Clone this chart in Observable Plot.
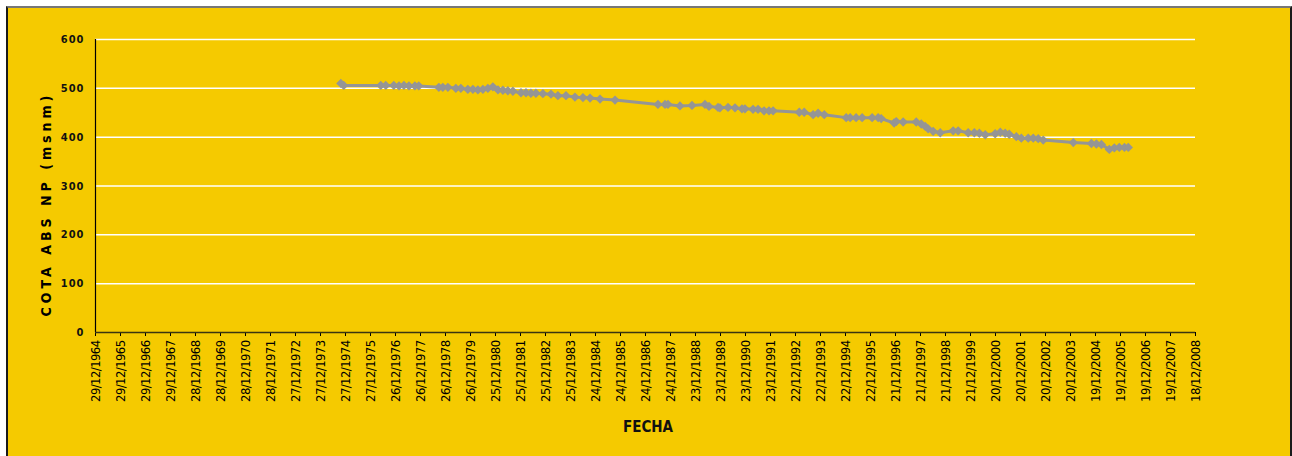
<!DOCTYPE html>
<html>
<head>
<meta charset="utf-8">
<script src="https://cdn.jsdelivr.net/npm/d3@7"></script>
<script src="https://cdn.jsdelivr.net/npm/@observablehq/plot@0.6"></script>
<style>
  html, body { margin: 0; padding: 0; background: #fff; }
  #wrap { position: relative; width: 1292px; height: 456px; overflow: hidden; background: #fff; }
  #bg { position: absolute; left: 6px; top: 6px; width: 1282px; height: 470px; background: #F5CA00;
        border-left: 2px solid #1a1a1a; border-top: 2px solid #777; border-right: 2px solid #1a1a1a; }
  #chart { position: absolute; left: 0; top: 0; }
  #chart svg { background: transparent !important; font-stretch: condensed; }
  .narrow { font-family: "DejaVu Sans Condensed", "DejaVu Sans", sans-serif; font-stretch: condensed; }
  #ytitle { position: absolute; left: 46px; top: 204px; transform: translate(-50%, -50%) rotate(-90deg);
            white-space: nowrap; font-size: 14px; font-weight: bold; letter-spacing: 4px; color: #000; }
  #xtitle { position: absolute; left: 648px; top: 427px; transform: translate(-50%, -50%);
            white-space: nowrap; font-size: 15px; font-weight: bold; color: #111; }
  g[aria-label="y-axis tick label"] text { letter-spacing: 1px; }
  g[aria-label="x-axis tick label"] text { letter-spacing: -0.6px; }
</style>
</head>
<body>
<div id="wrap">
  <div id="bg"></div>
  <div id="chart"></div>
  <div id="ytitle" class="narrow">COTA ABS NP (msnm)</div>
  <div id="xtitle" class="narrow">FECHA</div>
</div>
<script>
// ---- Data ----
const fechas = [
  "1974-10-20","1974-12-01","1976-05-25","1976-08-06","1976-12-01","1977-02-15","1977-04-28","1977-07-10",
  "1977-10-05","1977-12-01","1978-09-20","1978-11-17","1979-01-30","1979-05-26","1979-08-07","1979-11-17",
  "1980-01-30","1980-04-12","1980-06-24","1980-09-05","1980-11-17","1981-01-30","1981-04-12","1981-06-24",
  "1981-09-05","1982-01-01","1982-03-15","1982-05-26","1982-08-07","1982-11-17","1983-03-15","1983-06-24",
  "1983-10-20","1984-02-28","1984-06-24","1984-10-05","1985-02-28","1985-10-05","1987-06-24","1987-10-05",
  "1987-11-17","1988-05-10","1988-11-02","1989-05-10","1989-07-08","1989-11-17","1989-12-15","1990-04-12",
  "1990-07-23","1990-11-02","1990-12-15","1991-04-12","1991-06-24","1991-09-20","1991-12-01","1992-01-30",
  "1993-02-15","1993-04-28","1993-09-05","1993-11-17","1994-02-15","1995-01-01","1995-02-28","1995-05-26",
  "1995-08-22","1996-01-15","1996-04-12","1996-05-26","1996-12-01","1997-01-01","1997-04-12","1997-10-20",
  "1998-01-01","1998-02-28","1998-04-12","1998-06-24","1998-10-05","1999-04-12","1999-06-24","1999-11-17",
  "2000-02-15","2000-04-28","2000-07-23","2000-12-15","2001-02-28","2001-05-10","2001-07-08","2001-10-20",
  "2002-01-01","2002-04-12","2002-06-24","2002-09-05","2002-11-17","2004-01-30","2004-10-20","2005-01-01",
  "2005-03-15","2005-07-08","2005-09-20","2005-12-01","2006-02-15","2006-04-12"
];
const cotas = [
  510,506,506,506,506,505,506,505,
  505,505,502,502,502,500,500,498,
  498,497,498,500,503,497,496,495,
  494,491,491,490,490,489,488,485,
  485,482,481,480,478,476,467,467,
  467,464,465,467,463,461,460,461,
  460,458,458,457,457,454,454,454,
  451,451,446,449,446,440,440,440,
  440,440,440,438,429,432,431,431,
  427,422,417,412,409,413,413,409,
  409,408,405,407,410,408,406,401,
  398,398,398,397,394,389,387,386,
  385,375,378,379,379,379
];
const yTicks = [0, 100, 200, 300, 400, 500, 600];
const xTickLabels = [
  "29/12/1964","29/12/1965","29/12/1966","29/12/1967","28/12/1968","28/12/1969","28/12/1970","28/12/1971",
  "27/12/1972","27/12/1973","27/12/1974","27/12/1975","26/12/1976","26/12/1977","26/12/1978","26/12/1979",
  "25/12/1980","25/12/1981","25/12/1982","25/12/1983","24/12/1984","24/12/1985","24/12/1986","24/12/1987",
  "23/12/1988","23/12/1989","23/12/1990","23/12/1991","22/12/1992","22/12/1993","22/12/1994","22/12/1995",
  "21/12/1996","21/12/1997","21/12/1998","21/12/1999","20/12/2000","20/12/2001","20/12/2002","20/12/2003",
  "19/12/2004","19/12/2005","19/12/2006","19/12/2007","18/12/2008"
];

// ---- Build ----
const parseLabel = d3.utcParse("%d/%m/%Y");
const fmtLabel = d3.utcFormat("%d/%m/%Y");
const xTicks = xTickLabels.map(parseLabel);
const data = fechas.map((f, i) => ({date: new Date(f + "T00:00:00Z"), value: cotas[i]}));
const font = '"DejaVu Sans Condensed", "DejaVu Sans", sans-serif';
const grey = "#959595";

const chart = Plot.plot({
  width: 1292,
  height: 456,
  marginLeft: 95,
  marginRight: 97,
  marginTop: 39,
  marginBottom: 124,
  style: {background: "transparent", fontFamily: font, color: "#000"},
  x: {type: "utc", domain: [xTicks[0], xTicks[xTicks.length - 1]]},
  y: {domain: [0, 600]},
  marks: [
    Plot.gridY(yTicks.filter(d => d > 0), {stroke: "#ffffff", strokeOpacity: 1, strokeWidth: 1.5}),
    Plot.axisY({ticks: yTicks, tickSize: 4, tickPadding: 7, label: null,
                fontSize: 11, fontWeight: "bold", stroke: null, fill: "#111"}),
    Plot.axisX({ticks: xTicks, tickFormat: fmtLabel, tickRotate: -90, tickSize: 4, tickPadding: 4,
                label: null, fontSize: 13, fill: "#000"}),
    Plot.ruleX([xTicks[0]], {stroke: "#000", strokeWidth: 1.2}),
    Plot.ruleY([0], {stroke: "#3a3410", strokeWidth: 1.5}),
    Plot.line(data, {x: "date", y: "value", stroke: grey, strokeWidth: 3}),
    Plot.dot(data, {x: "date", y: "value", symbol: "diamond2", r: 4.2, fill: grey, stroke: null})
  ]
});
document.getElementById("chart").appendChild(chart);
</script>
</body>
</html>
